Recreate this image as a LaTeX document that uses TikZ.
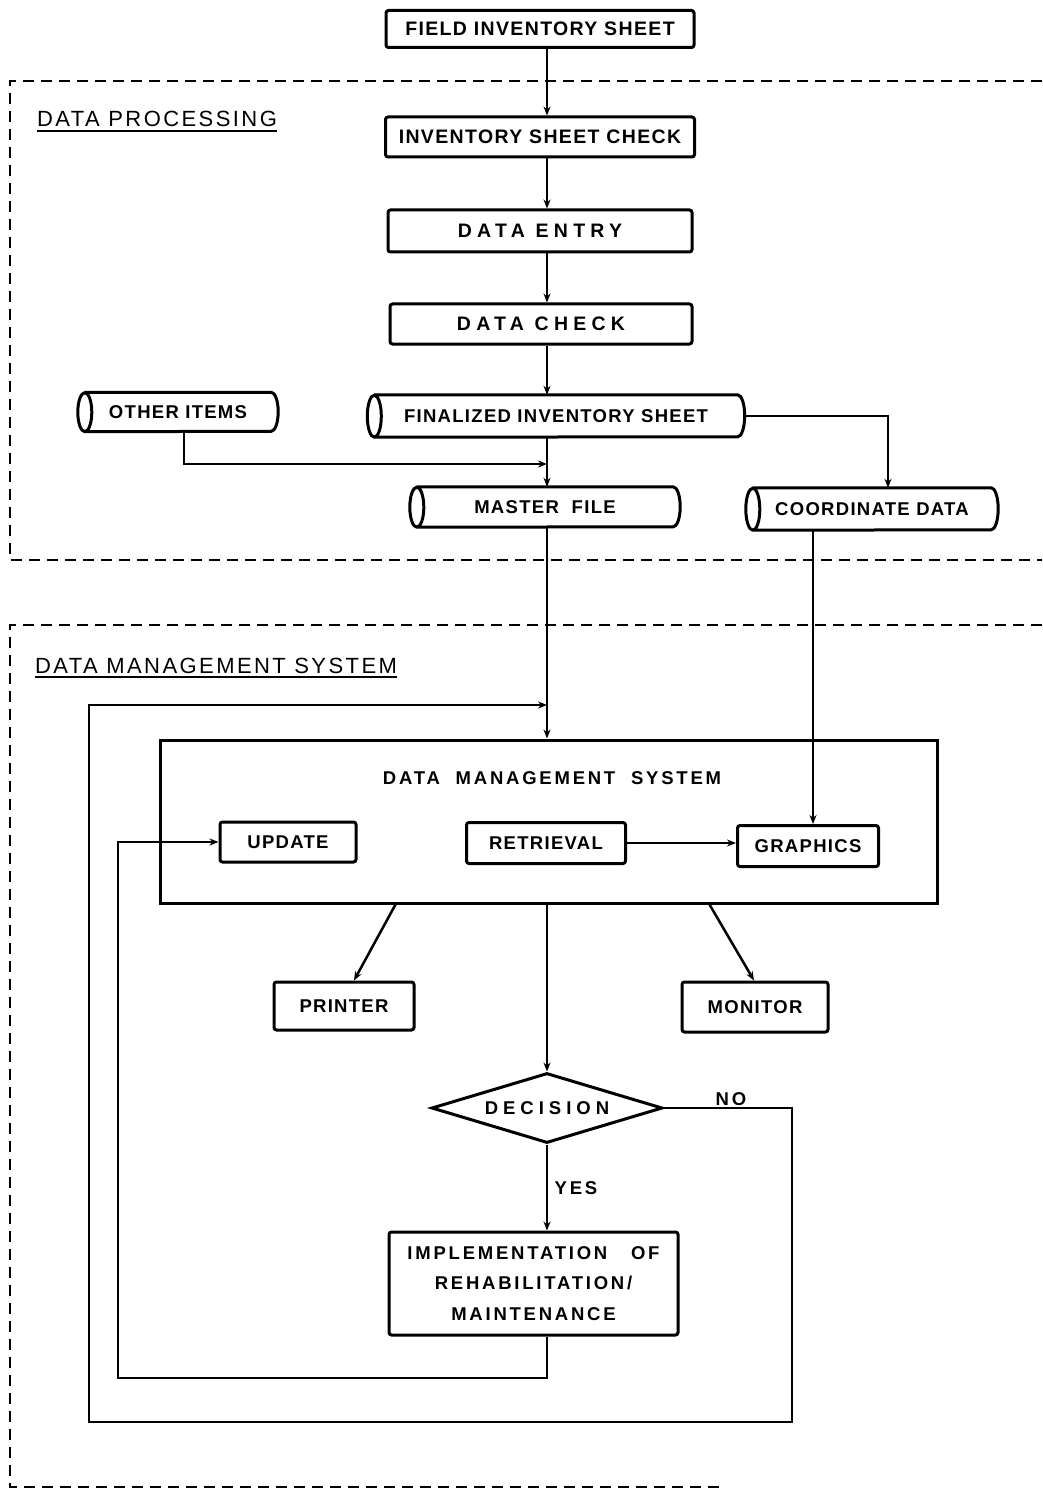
\documentclass[tikz,border=0pt]{standalone}
\usepackage{fontspec}
\setmainfont{Liberation Sans}
\newfontfamily\lettering[LetterSpace=7]{Liberation Sans}
\newfontfamily\letteringmid[LetterSpace=15]{Liberation Sans}
\newfontfamily\letteringwide[LetterSpace=27]{Liberation Sans}
\newfontfamily\headfont[LetterSpace=11]{Liberation Sans}
\usetikzlibrary{arrows.meta,shapes.geometric,calc}

\tikzset{
  box/.style={draw, line width=3pt, rounded corners=2.5pt, inner sep=0pt,
    font=\lettering\bfseries\fontsize{19.5}{23}\selectfont, align=center},
  smallbox/.style={box, font=\lettering\bfseries\fontsize{18.5}{22}\selectfont},
  widebox/.style={box, font=\letteringwide\bfseries\fontsize{19.5}{23}\selectfont},
  bigbox/.style={draw, line width=3pt, inner sep=0pt},
  plaintext/.style={inner sep=0pt, font=\letteringmid\bfseries\fontsize{18.5}{22}\selectfont},
  storetext/.style={inner sep=0pt, font=\lettering\bfseries\fontsize{18.5}{22}\selectfont},
  storeline/.style={line width=3pt},
  decide/.style={diamond, draw, line width=3pt, inner sep=0pt, aspect=3.3,
    font=\letteringwide\bfseries\fontsize{18.5}{22}\selectfont},
  implbox/.style={box, font=\letteringmid\bfseries\fontsize{18.5}{30.5}\selectfont},
  head/.style={inner sep=0pt, font=\headfont\fontsize{22}{26}\selectfont},
  uline/.style={line width=2.2pt},
  conn/.style={line width=2.5pt, -{Stealth[length=9pt,width=7pt]}},
  frame/.style={line width=2.2pt, dash pattern=on 11pt off 7pt},
}

% storage symbol: full ellipse on the left end, half ellipse on the right end
\newcommand\storenode[6]{%
  \node[storetext, minimum width=#4pt, minimum height=#5pt] (#1) at (#2,#3) {#6};
  \draw[storeline]
    ([xshift=7pt]#1.north west) -- ([xshift=-7pt]#1.north east)
    arc[start angle=90, end angle=-90, x radius=7pt, y radius=#5pt/2]
    -- ([xshift=7pt]#1.south west)
    arc[start angle=270, end angle=90, x radius=7pt, y radius=#5pt/2]
    arc[start angle=90, end angle=-90, x radius=7pt, y radius=#5pt/2];
}

\begin{document}
\begin{tikzpicture}[x=1pt, y=-1pt]
\useasboundingbox (0,0) rectangle (1042,1495);

% group frames
\draw[frame] (1042,81) -- (10,81) -- (10,560) -- (1042,560);
\draw[frame] (1042,625) -- (10,625) -- (10,1487) -- (720,1487);

% headings
\node[head, anchor=base west] (hp) at (37,127) {DATA PROCESSING};
\draw[uline] ([yshift=-4pt]hp.base west) -- ([yshift=-4pt]hp.base east);
\node[head, anchor=base west] (hm) at (35,673) {DATA MANAGEMENT SYSTEM};
\draw[uline] ([yshift=-4pt]hm.base west) -- ([yshift=-4pt]hm.base east);

% main trunk x position
\coordinate (mx) at (547,0);

% data processing
\node[box, minimum width=308pt, minimum height=37pt] (fis) at (540,29) {FIELD INVENTORY SHEET};
\node[box, minimum width=309pt, minimum height=40pt] (isc) at (540,137) {INVENTORY SHEET CHECK};
\node[widebox, minimum width=304pt, minimum height=42pt] (de) at (540,231) {DATA ENTRY};
\node[widebox, minimum width=302pt, minimum height=40pt] (dc) at (541,324) {DATA CHECK};
\storenode{oth}{178}{412}{200}{39}{OTHER ITEMS}
\storenode{fin}{556}{416}{377}{42}{FINALIZED INVENTORY SHEET}
\storenode{mf}{545}{507}{270}{40}{MASTER\ \ FILE}
\storenode{cd}{872}{509}{252}{42}{COORDINATE DATA}

% data management system
\node[bigbox, minimum width=777pt, minimum height=163pt] (dms) at (548.5,821.5) {};
\node[plaintext] (dmst) at (552,778) {DATA\ \ MANAGEMENT\ \ SYSTEM};
\node[smallbox, minimum width=136pt, minimum height=40pt] (upd) at (288,842) {UPDATE};
\node[smallbox, minimum width=159pt, minimum height=41pt] (ret) at (546,843) {RETRIEVAL};
\node[smallbox, minimum width=141pt, minimum height=41pt] (gr) at (808,846) {GRAPHICS};
\node[smallbox, minimum width=140pt, minimum height=48pt] (prn) at (344,1006) {PRINTER};
\node[smallbox, minimum width=146pt, minimum height=50pt] (mon) at (755,1007) {MONITOR};
\node[decide, minimum width=231pt, minimum height=70pt] (dec) at (547,1108) {DECISION};
\node[implbox, minimum width=289pt, minimum height=103pt] (impl) at (533.5,1283.5)
  {IMPLEMENTATION\ \ \ OF\\REHABILITATION/\\MAINTENANCE};
\node[plaintext] (no) at (731,1099) {NO};
\node[plaintext] (yes) at (576,1188) {YES};

% junction points
\coordinate (j1) at (547,464);
\coordinate (j2) at (547,705);
\coordinate (lpR) at (792,1422);
\coordinate (lpL) at (89,705);
\coordinate (ilp) at (118,1378);

% connectors
\draw[conn] (fis.south -| mx) -- (isc.north -| mx);
\draw[conn] (isc.south -| mx) -- (de.north -| mx);
\draw[conn] (de.south -| mx) -- (dc.north -| mx);
\draw[conn] (dc.south -| mx) -- (fin.north -| mx);
\draw[conn] (fin.south -| mx) -- (mf.north -| mx);
\draw[conn] ([xshift=6pt]oth.south) |- (j1);
\draw[conn] (fin.east) -| ([xshift=16pt]cd.north);
\draw[conn] (mf.south -| mx) -- (dms.north -| mx);
\draw[conn] ([xshift=-59pt]cd.south) -- ([xshift=-59pt]cd.south |- gr.north);
\draw[conn] (ret.east) -- (ret.east -| gr.west);
\draw[conn] ([xshift=-153pt]dms.south) -- ([xshift=10pt]prn.north);
\draw[conn] ([xshift=161pt]dms.south) -- ([xshift=-1pt]mon.north);
\draw[conn] (dms.south -| mx) -- (dec.north);
\draw[conn] (dec.south) -- (impl.north -| dec.south);
\draw[conn] (dec.east) -| (lpR) -| (lpL) -- (j2);
\draw[conn] (impl.south -| mx) |- (ilp) |- (upd.west);
\end{tikzpicture}
\end{document}
